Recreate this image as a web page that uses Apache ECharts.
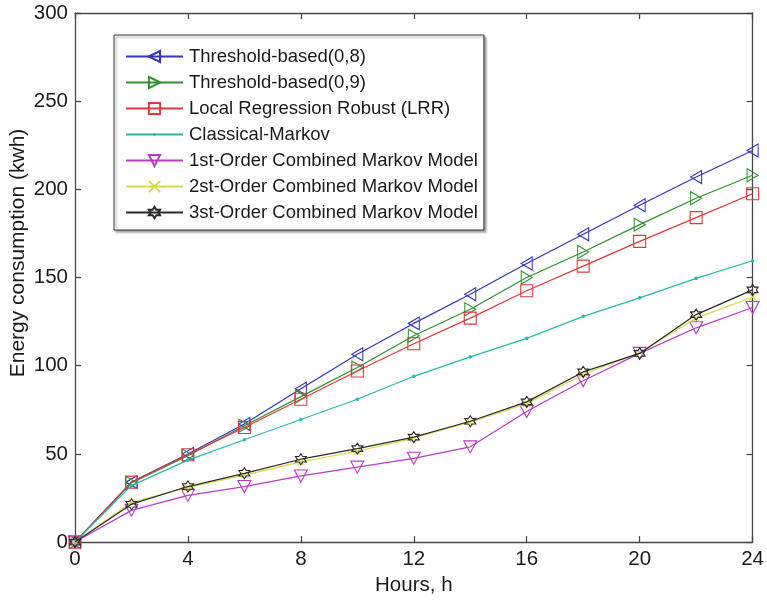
<!DOCTYPE html>
<html>
<head>
<meta charset="utf-8">
<script src="https://cdn.jsdelivr.net/npm/echarts@6/dist/echarts.min.js"></script>
<style>
  html, body { margin: 0; padding: 0; background: #fff; }
  #chart { width: 767px; height: 601px; }
</style>
</head>
<body>
<div id="chart"></div>
<script>
// Hours of the day at which consumption was sampled
const hours = [0, 2, 4, 6, 8, 10, 12, 14, 16, 18, 20, 22, 24];
const xTicks = [0, 4, 8, 12, 16, 20, 24];
const yTicks = [0, 50, 100, 150, 200, 250, 300];

// Cumulative energy consumption (kWh) for each forecasting method
const threshold08 = [0, 34, 50, 67, 87, 106.5, 124, 140.5, 158, 174.5, 191, 207, 222];
const threshold09 = [0, 33.5, 49, 66, 82.5, 99, 117, 132, 150, 164.5, 180, 195, 208];
const lrr = [0, 34, 49.5, 65, 81, 97, 112.5, 127, 142.5, 156.5, 170.5, 184, 197.5];
const classicalMarkov = [0, 32, 46.5, 58, 69.5, 81, 94, 105, 115.5, 128, 138.5, 149.5, 159.5];
const markov1st = [0, 18, 26.5, 31.5, 37.5, 42.5, 47.5, 54, 74, 91.5, 107, 121.5, 133];
const markov2nd = [0, 22.5, 31, 38, 45.5, 51.5, 59, 68, 78.5, 95, 107.5, 127, 139];
const markov3rd = [0, 21.5, 31.5, 39, 47, 53, 59.5, 68.5, 79.5, 96.5, 107, 129, 143];

const seriesNames = [
  'Threshold-based(0,8)',
  'Threshold-based(0,9)',
  'Local Regression Robust (LRR)',
  'Classical-Markov',
  '1st-Order Combined Markov Model',
  '2st-Order Combined Markov Model',
  '3st-Order Combined Markov Model'
];
const seriesData = [threshold08, threshold09, lrr, classicalMarkov, markov1st, markov2nd, markov3rd];

const FONT = 'Liberation Sans, Arial, Helvetica, sans-serif';

// Marker shapes
const hexagram = 'path://M10,0L12.89,5L18.66,5L15.77,10L18.66,15L12.89,15L10,20L7.11,15L1.34,15L4.23,10L1.34,5L7.11,5Z';
// small dot inside a wider invisible frame, so it stays small in the legend too
const smallDot = 'path://M0,0M14,14M8.7,7A1.7,1.7,0,1,1,8.69,6.8Z';
const styles = [
  { color: '#3535b5', symbol: 'path://M0,5L10,0L10,10Z', size: [11, 13], hollow: true },
  { color: '#2f922f', symbol: 'path://M10,5L0,0L0,10Z', size: [11, 13], hollow: true },
  { color: '#e0383c', symbol: 'rect', size: 12, hollow: true },
  { color: '#28b8b0', symbol: smallDot, size: 15, hollow: false },
  { color: '#b83cc4', symbol: 'path://M0,0L10,0L5,9Z', size: [13, 12], hollow: true },
  { color: '#d9d948', symbol: 'path://M0,0L10,10M10,0L0,10', size: 7, hollow: true },
  { color: '#2a2a2a', symbol: hexagram, size: 11, hollow: true }
];

function pairs(values) {
  return hours.map((h, i) => [h, values[i]]);
}

const series = seriesNames.map((name, i) => {
  const st = styles[i];
  return {
    name: name,
    type: 'line',
    data: pairs(seriesData[i]),
    color: st.color,
    symbol: st.symbol,
    symbolSize: st.size,
    symbolKeepAspect: false,
    showAllSymbol: true,
    lineStyle: { color: st.color, width: 1.2 },
    itemStyle: {
      color: st.hollow ? 'rgba(255,255,255,0)' : st.color,
      borderColor: st.color,
      borderWidth: st.hollow ? 1.1 : 0
    },
    emphasis: { disabled: true },
    z: 2 + i
  };
});

const axisLineStyle = { color: '#4a4a4a', width: 1.3 };

const chart = echarts.init(document.getElementById('chart'), null, { renderer: 'canvas' });
chart.setOption({
  animation: false,
  backgroundColor: '#fff',
  grid: { left: 75, right: 13, top: 13, bottom: 56, containLabel: false },
  legend: {
    data: seriesNames,
    orient: 'vertical',
    left: 114,
    top: 35,
    padding: [12, 6, 8, 11],
    itemWidth: 57,
    itemHeight: 14,
    itemGap: 7,
    backgroundColor: '#fff',
    borderColor: '#333',
    borderWidth: 1,
    borderRadius: 0,
    shadowColor: 'rgba(0,0,0,0.35)',
    shadowBlur: 2,
    shadowOffsetX: 2,
    shadowOffsetY: 2,
    textStyle: { fontFamily: FONT, fontSize: 18.5, color: '#1a1a1a', padding: [0, 0, 0, 1] },
    selectedMode: false
  },
  xAxis: [
    {
      type: 'value', min: 0, max: 24, interval: 4,
      name: 'Hours, h', nameLocation: 'middle', nameGap: 30,
      nameTextStyle: { fontFamily: FONT, fontSize: 20.5, color: '#1a1a1a' },
      axisLine: { show: true, onZero: false, lineStyle: axisLineStyle },
      axisTick: { show: true, inside: true, length: 6, lineStyle: axisLineStyle },
      axisLabel: {
        fontFamily: FONT, fontSize: 20.5, color: '#1a1a1a', margin: 7,
        formatter: v => (xTicks.includes(v) ? String(v) : '')
      },
      splitLine: { show: false }
    },
    {
      type: 'value', min: 0, max: 24, interval: 4, position: 'top',
      axisLine: { show: true, onZero: false, lineStyle: axisLineStyle },
      axisTick: { show: true, inside: true, length: 6, lineStyle: axisLineStyle },
      axisLabel: { show: false },
      splitLine: { show: false }
    }
  ],
  yAxis: [
    {
      type: 'value', min: 0, max: 300, interval: 50,
      axisLine: { show: true, onZero: false, lineStyle: axisLineStyle },
      axisTick: { show: true, inside: true, length: 6, lineStyle: axisLineStyle },
      axisLabel: {
        fontFamily: FONT, fontSize: 20.5, color: '#1a1a1a', margin: 7,
        formatter: v => (yTicks.includes(v) ? String(v) : '')
      },
      splitLine: { show: false }
    },
    {
      type: 'value', min: 0, max: 300, interval: 50, position: 'right',
      axisLine: { show: true, onZero: false, lineStyle: axisLineStyle },
      axisTick: { show: true, inside: true, length: 6, lineStyle: axisLineStyle },
      axisLabel: { show: false },
      splitLine: { show: false }
    }
  ],
  graphic: [
    {
      type: 'text',
      x: 18, y: 253,
      rotation: Math.PI / 2,
      style: {
        text: 'Energy consumption (kwh)',
        fontFamily: FONT, fontSize: 21, fill: '#1a1a1a',
        textAlign: 'center', textVerticalAlign: 'middle'
      }
    }
  ],
  series: series
});
</script>
</body>
</html>
